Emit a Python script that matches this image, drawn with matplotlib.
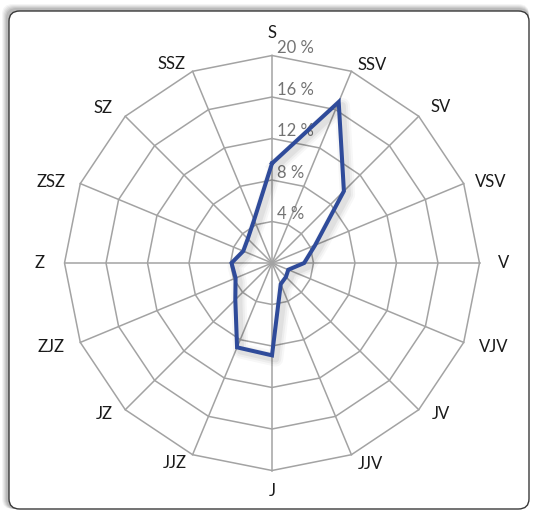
import numpy as np
import matplotlib.pyplot as plt
from matplotlib.patches import FancyBboxPatch

# wind directions, clockwise from north
directions = ["S", "SSV", "SV", "VSV", "V", "VJV", "JV", "JJV",
              "J", "JJZ", "JZ", "ZJZ", "Z", "ZSZ", "SZ", "SSZ"]
# frequency in %
frequency = [9.6, 16.8, 9.8, 4.5, 3.1, 1.7, 1.9, 2.2,
             8.9, 8.8, 5.0, 3.8, 3.9, 3.0, 3.3, 4.5]
ring_values = [4, 8, 12, 16, 20]
ring_labels = ["4 %", "8 %", "12 %", "16 %", "20 %"]

R_MAX = 20
LINE_COLOR = "#2F4B9A"
GRID_COLOR = "#A3A3A3"

# label offsets from the outer vertex, in pixels (x right, y down)
label_offsets = [(0, -22), (21, -6), (22, -9), (27, -2), (24, 0), (30, 5),
                 (22, 4), (19, 9), (0, 20), (-18, 8), (-21, 4), (-29, 5),
                 (-25, 0), (-29, -2), (-22, -8), (-21, -7)]

plt.rcParams['font.family'] = ['Lato', 'DejaVu Sans']

fig = plt.figure(figsize=(5.33, 5.12), dpi=100)
fig.patch.set_facecolor("white")

# --- outer frame with soft shadow (top/left) ---
W, H = 533, 512
for i, a in enumerate([0.04, 0.05, 0.06, 0.07, 0.08]):
    off = 7 - i
    sh = FancyBboxPatch(((9 - off) / W, 3 / H),
                        (520 + off) / W, (498 + off) / H,
                        boxstyle="round,pad=0,rounding_size=0.02",
                        transform=fig.transFigure, facecolor="black",
                        edgecolor="none", alpha=a, zorder=0)
    fig.patches.append(sh)
frame = FancyBboxPatch((9 / W, 3 / H), 520 / W, 498 / H,
                       boxstyle="round,pad=0,rounding_size=0.02",
                       transform=fig.transFigure, facecolor="white",
                       edgecolor="#3a3a3a", linewidth=1.0, zorder=1)
fig.patches.append(frame)

# axes: centre at pixel (272, 263), 20 % = 207.5 px
L = 24
ax = fig.add_axes([23 / W, 0, 498 / W, 498 / H])
ax.set_zorder(5)
ax.set_xlim(-L, L)
ax.set_ylim(-L, L)
ax.set_aspect("equal")
ax.axis("off")
ax.patch.set_alpha(0)

theta = np.deg2rad(np.arange(len(directions)) * 360 / len(directions))
sx, sy = np.sin(theta), np.cos(theta)

# polygon rings
for rv in ring_values:
    ax.plot(np.append(rv * sx, rv * sx[0]), np.append(rv * sy, rv * sy[0]),
            color=GRID_COLOR, lw=1.1, zorder=2)
# spokes
for x, y in zip(sx, sy):
    ax.plot([0, R_MAX * x], [0, R_MAX * y], color=GRID_COLOR, lw=1.1, zorder=2)

# ring labels
for rv, lab in zip(ring_values, ring_labels):
    ax.text(0.45, rv + 0.7, lab, color="#737373", fontsize=12,
            ha="left", va="center", zorder=3)

# direction labels
for name, x, y, (ox, oy) in zip(directions, sx, sy, label_offsets):
    ax.annotate(name, (R_MAX * x, R_MAX * y), xytext=(ox * 0.72, -oy * 0.72),
                textcoords="offset points", fontsize=12, color="#1a1a1a",
                ha="center", va="center", zorder=3)

# data line
v = np.array(frequency)
px = np.append(v * sx, v[0] * sx[0])
py = np.append(v * sy, v[0] * sy[0])
for lw, a in [(11, 0.03), (8, 0.04), (5, 0.05)]:
    ax.plot(px + 0.35, py - 0.35, color="black", lw=lw, alpha=a,
            solid_joinstyle="round", zorder=4)
ax.plot(px, py, color=LINE_COLOR, lw=2.9, solid_joinstyle="miter", zorder=5)

fig.savefig("out.png", dpi=100)
